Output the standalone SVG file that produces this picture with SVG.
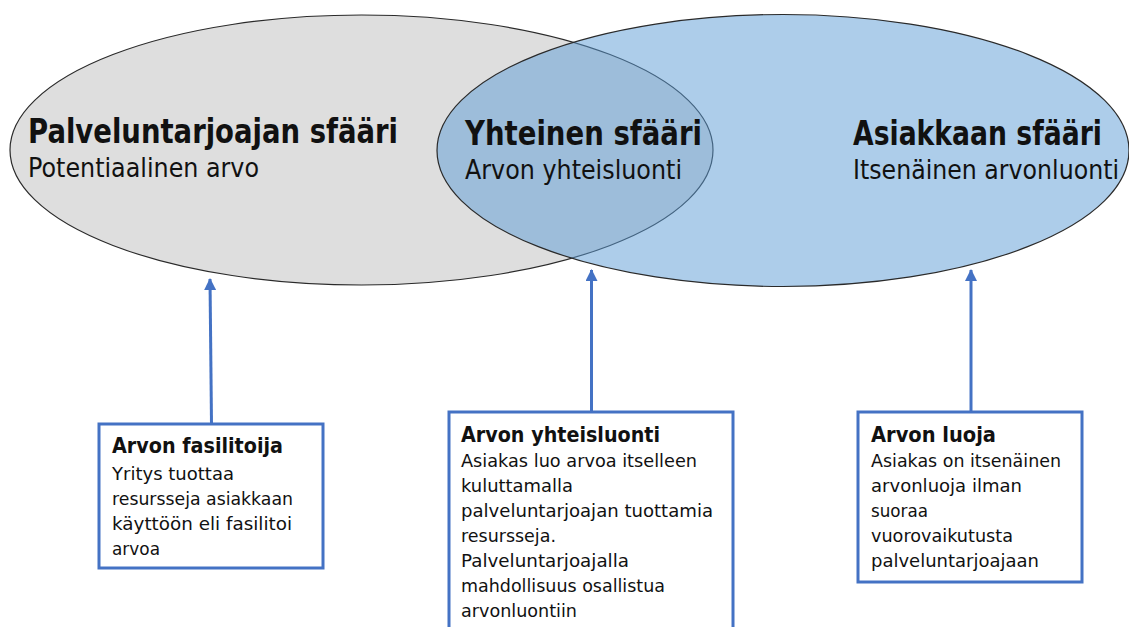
<svg xmlns="http://www.w3.org/2000/svg" width="1129" height="627" viewBox="0 0 1129 627">
<style>
  text { font-family: "DejaVu Sans", Verdana, sans-serif; fill: #111; }
  .h1 { font-size: 33px; font-weight: bold; }
  .h2 { font-size: 26px; }
  .bt { font-size: 21px; font-weight: bold; }
  .bb { font-size: 18px; }
  .box { fill: #fff; stroke: #4472C4; stroke-width: 3; }
  .conn { stroke: #4472C4; stroke-width: 3; fill: none; }
</style>
<defs>
  <marker id="ah" markerUnits="userSpaceOnUse" markerWidth="12" markerHeight="12" viewBox="0 0 12 12" refX="11" refY="6" orient="auto">
    <path d="M0,0 L12,6 L0,12 z" fill="#4472C4"/>
  </marker>
</defs>
<rect width="1129" height="627" fill="#fff"/>

<g id="provider-sphere">
  <ellipse cx="361.5" cy="150" rx="351.5" ry="135" fill="#DEDEDE" stroke="#2a2a2a" stroke-width="1.2"/>
</g>
<g id="customer-sphere">
  <ellipse cx="783" cy="150.5" rx="346" ry="136" fill="#5B9BD5" fill-opacity="0.5" stroke="#2a2a2a" stroke-width="1.2"/>
</g>

<g id="provider-label">
  <text class="h1" x="28" y="143" textLength="370" lengthAdjust="spacingAndGlyphs">Palveluntarjoajan sfääri</text>
  <text class="h2" x="28" y="177" textLength="231" lengthAdjust="spacingAndGlyphs">Potentiaalinen arvo</text>
</g>
<g id="joint-label">
  <text class="h1" x="465" y="145" textLength="237" lengthAdjust="spacingAndGlyphs">Yhteinen sfääri</text>
  <text class="h2" x="465" y="179" textLength="217" lengthAdjust="spacingAndGlyphs">Arvon yhteisluonti</text>
</g>
<g id="customer-label">
  <text class="h1" x="853" y="145" textLength="249" lengthAdjust="spacingAndGlyphs">Asiakkaan sfääri</text>
  <text class="h2" x="853" y="179" textLength="266" lengthAdjust="spacingAndGlyphs">Itsenäinen arvonluonti</text>
</g>

<g id="connectors">
  <line class="conn" x1="211.5" y1="424" x2="210" y2="279" marker-end="url(#ah)"/>
  <line class="conn" x1="591.5" y1="412" x2="591.5" y2="270" marker-end="url(#ah)"/>
  <line class="conn" x1="971" y1="412" x2="971" y2="270" marker-end="url(#ah)"/>
</g>

<g id="box-facilitator">
  <rect class="box" x="99" y="424" width="224" height="144"/>
  <text class="bt" x="112" y="453" textLength="171" lengthAdjust="spacingAndGlyphs">Arvon fasilitoija</text>
  <text class="bb" x="112" y="480" textLength="122" lengthAdjust="spacingAndGlyphs">Yritys tuottaa</text>
  <text class="bb" x="112" y="505" textLength="181" lengthAdjust="spacingAndGlyphs">resursseja asiakkaan</text>
  <text class="bb" x="112" y="530" textLength="180" lengthAdjust="spacingAndGlyphs">käyttöön eli fasilitoi</text>
  <text class="bb" x="112" y="555" textLength="48" lengthAdjust="spacingAndGlyphs">arvoa</text>
</g>

<g id="box-cocreation">
  <rect class="box" x="449" y="412" width="284" height="240"/>
  <text class="bt" x="461" y="442" textLength="199" lengthAdjust="spacingAndGlyphs">Arvon yhteisluonti</text>
  <text class="bb" x="461" y="467" textLength="236" lengthAdjust="spacingAndGlyphs">Asiakas luo arvoa itselleen</text>
  <text class="bb" x="461" y="492" textLength="112" lengthAdjust="spacingAndGlyphs">kuluttamalla</text>
  <text class="bb" x="461" y="517" textLength="252" lengthAdjust="spacingAndGlyphs">palveluntarjoajan tuottamia</text>
  <text class="bb" x="461" y="542" textLength="95" lengthAdjust="spacingAndGlyphs">resursseja.</text>
  <text class="bb" x="461" y="567" textLength="168" lengthAdjust="spacingAndGlyphs">Palveluntarjoajalla</text>
  <text class="bb" x="461" y="592" textLength="204" lengthAdjust="spacingAndGlyphs">mahdollisuus osallistua</text>
  <text class="bb" x="461" y="617" textLength="116" lengthAdjust="spacingAndGlyphs">arvonluontiin</text>
</g>

<g id="box-creator">
  <rect class="box" x="858" y="412" width="224" height="170"/>
  <text class="bt" x="871" y="442" textLength="125" lengthAdjust="spacingAndGlyphs">Arvon luoja</text>
  <text class="bb" x="871" y="467" textLength="190" lengthAdjust="spacingAndGlyphs">Asiakas on itsenäinen</text>
  <text class="bb" x="871" y="492" textLength="151" lengthAdjust="spacingAndGlyphs">arvonluoja ilman</text>
  <text class="bb" x="871" y="517" textLength="57" lengthAdjust="spacingAndGlyphs">suoraa</text>
  <text class="bb" x="871" y="542" textLength="142" lengthAdjust="spacingAndGlyphs">vuorovaikutusta</text>
  <text class="bb" x="871" y="567" textLength="168" lengthAdjust="spacingAndGlyphs">palveluntarjoajaan</text>
</g>
</svg>
